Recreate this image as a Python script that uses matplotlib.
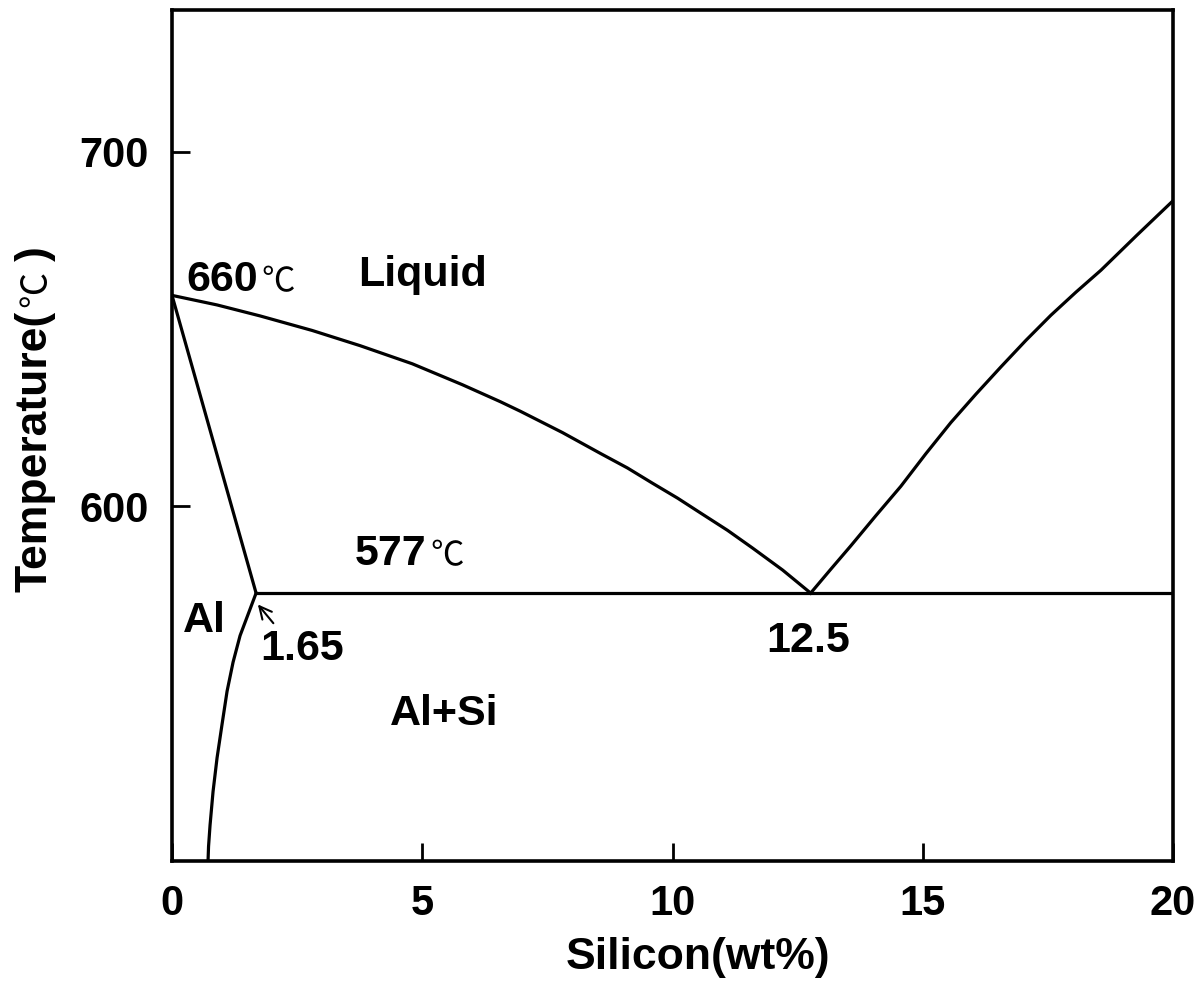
import matplotlib
matplotlib.use('Agg')
import matplotlib.pyplot as plt
import numpy as np

# Al-Si phase diagram
liquidus_al_x = [0.0, 0.9, 1.76, 2.8, 3.76, 4.8, 5.8, 6.56, 6.96, 7.8, 8.56, 9.1, 9.6, 10.1,
                 10.56, 11.1, 11.6, 12.2, 12.76]
liquidus_al_t = [659.5, 656.8, 653.7, 649.6, 645.3, 640.2, 634.3, 629.5, 626.8, 620.8, 614.9,
                 610.8, 606.5, 602.3, 598.1, 593.2, 588.2, 582.0, 575.5]

liquidus_si_x = [12.76, 13.16, 13.56, 14.06, 14.56, 15.06, 15.56, 16.06, 16.56, 17.06, 17.56,
                 18.06, 18.56, 19.28, 20.0]
liquidus_si_t = [575.5, 582.2, 588.8, 597.3, 605.6, 614.8, 623.6, 631.6, 639.3, 646.8, 653.9,
                 660.4, 666.6, 676.5, 686.2]

solidus_x = [0.0, 1.68]
solidus_t = [659.5, 575.5]

solvus_x = [1.68, 1.52, 1.36, 1.22, 1.1, 1.0, 0.9, 0.82, 0.76, 0.73, 0.72]
solvus_t = [575.5, 569.5, 563.5, 556.0, 547.8, 538.5, 529.0, 519.5, 510.0, 504.0, 500.0]

eutectic_x = [1.68, 20.0]
eutectic_t = [575.5, 575.5]

x_ticks = [0, 5, 10, 15, 20]
y_ticks = [600, 700]

BOLD = 'Liberation Sans'
THIN = 'Noto Sans CJK KR'

fig = plt.figure(figsize=(12.02, 9.85), dpi=100)
ax = fig.add_axes([0.1431, 0.1262, 0.8328, 0.8636])

lw = 2.3
ax.plot(liquidus_al_x, liquidus_al_t, color='black', lw=lw)
ax.plot(liquidus_si_x, liquidus_si_t, color='black', lw=lw)
ax.plot(solidus_x, solidus_t, color='black', lw=lw)
ax.plot(solvus_x, solvus_t, color='black', lw=lw)
ax.plot(eutectic_x, eutectic_t, color='black', lw=lw)

ax.set_xlim(0, 20)
ax.set_ylim(500, 740)
ax.set_xticks(x_ticks)
ax.set_yticks(y_ticks)
ax.tick_params(direction='in', length=13, width=2, pad=17, labelsize=30)
for lab in ax.get_xticklabels() + ax.get_yticklabels():
    lab.set_fontfamily(BOLD)
    lab.set_fontweight('bold')
for s in ax.spines.values():
    s.set_linewidth(2.6)

# region labels
def bold_text(x, y, s):
    return ax.text(x, y, s, fontsize=31, fontweight='bold', family=BOLD, va='baseline', ha='left')

bold_text(3.72, 662.2, 'Liquid')
bold_text(0.22, 564.5, 'Al')
bold_text(1.76, 556.7, '1.65')
bold_text(4.36, 538.4, 'Al+Si')
bold_text(11.88, 558.9, '12.5')

t660 = bold_text(0.28, 660.8, '660')
t577 = bold_text(3.66, 583.4, '577')

ax.annotate('', xy=(1.68, 572.9), xytext=(2.06, 566.4),
            arrowprops=dict(arrowstyle='->', lw=1.5, color='black', mutation_scale=22))

fig.canvas.draw()
r = fig.canvas.get_renderer()
inv = ax.transData.inverted()
for t in (t660, t577):
    bb = t.get_window_extent(r)
    xd, yd = inv.transform((bb.x1 + 4, 0))[0], t.get_position()[1]
    ax.text(xd, yd, '℃', fontsize=24, family=THIN, va='baseline', ha='left')

# x label
fig.text(698 / 1202, 1 - 958 / 985, 'Silicon(wt%)', fontsize=32, fontweight='bold',
         family=BOLD, ha='center', va='center')

# y label built from pieces (bold text, thin degree sign)
ylab_x = 35 / 1202
y0 = 1 - 592 / 985
p1 = fig.text(ylab_x, y0, 'Temperature(', fontsize=32, fontweight='bold', family=BOLD,
              rotation=90, ha='center', va='bottom')
fig.canvas.draw()
bb = p1.get_window_extent(r)
p2 = fig.text(ylab_x + 1 / 1202, (bb.y1 + 4) / fig.bbox.height, '℃', fontsize=26, family=THIN,
              rotation=90, ha='center', va='bottom')
fig.canvas.draw()
bb = p2.get_window_extent(r)
fig.text(ylab_x, (bb.y1 + 10) / fig.bbox.height, ')', fontsize=32, fontweight='bold', family=BOLD,
         rotation=90, ha='center', va='bottom')

fig.savefig('out.png', dpi=100, facecolor='white')
